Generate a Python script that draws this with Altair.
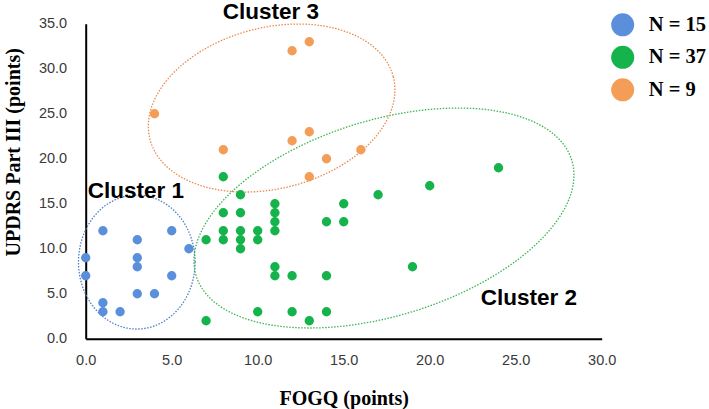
import altair as alt
import numpy as np
import pandas as pd

# FOGQ (x) and UPDRS Part III (y) scores for each cluster
c1_fogq = [1, 3, 5, 6, 0, 3, 3, 0, 5, 3, 4, 1, 1, 2]
c1_updrs = [12, 11, 12, 10, 9, 9, 8, 7, 7, 5, 5, 4, 3, 3]

c2_fogq = [8, 9, 17, 11, 15, 8, 9, 11, 11, 14, 15, 8, 9, 10, 11, 7,
           8, 9, 10, 9, 11, 11, 12, 14, 19, 20, 24, 10, 12, 14, 7, 13]
c2_updrs = [18, 16, 16, 15, 15, 14, 14, 14, 13, 13, 13, 12, 12, 12, 12, 11,
            11, 11, 11, 10, 8, 7, 7, 7, 8, 17, 19, 3, 3, 3, 2, 2]

c3_fogq = [4, 8, 12, 13, 12, 13, 14, 16, 13]
c3_updrs = [25, 21, 22, 23, 32, 33, 20, 21, 18]

cluster_names = ["Cluster 1", "Cluster 2", "Cluster 3"]
legend_labels = ["N = 15", "N = 37", "N = 9"]
point_colors = ["#5b8fdb", "#15b34c", "#f49d56"]
ring_colors = ["#4f7fc4", "#3cb552", "#e88a4c"]

x_ticks = [0, 5, 10, 15, 20, 25, 30]
y_ticks = [0, 5, 10, 15, 20, 25, 30, 35]

PAGE_W, PAGE_H = 709, 409
LEFT, TOP = 85.7, 23.8
W, H = 516, 315
X_MAX, Y_MAX = 30, 35
px_x = W / X_MAX
px_y = H / Y_MAX

points = pd.concat([
    pd.DataFrame({"fogq": fx, "updrs": uy, "group": lab})
    for fx, uy, lab in zip([c1_fogq, c2_fogq, c3_fogq],
                           [c1_updrs, c2_updrs, c3_updrs],
                           legend_labels)
], ignore_index=True)

# Dotted outline around each cluster: centre in data units,
# semi-axes and tilt in screen pixels/degrees
outlines = [
    ("Cluster 1", 2.97, 8.53, 58.3, 67.0, 0.0),
    ("Cluster 2", 17.34, 13.42, 196.5, 97.9, 17.1),
    ("Cluster 3", 10.81, 25.64, 125.6, 80.5, 14.4),
]
t = np.linspace(0, 2 * np.pi, 361)
rings = []
for name, cx, cy, a, b, tilt in outlines:
    th = np.radians(tilt)
    dx = a * np.cos(th) * np.cos(t) - b * np.sin(th) * np.sin(t)
    dy = a * np.sin(th) * np.cos(t) + b * np.cos(th) * np.sin(t)
    rings.append(pd.DataFrame({
        "cluster": name,
        "fogq": cx + dx / px_x,
        "updrs": cy + dy / px_y,
        "k": np.arange(len(t)),
    }))
rings = pd.concat(rings, ignore_index=True)

tags = pd.DataFrame({
    "cluster": cluster_names,
    "fogq": [2.92, 25.77, 10.77],
    "updrs": [15.64, 3.76, 35.5],
})

x_scale = alt.Scale(domain=[0, X_MAX], nice=False, zero=False)
y_scale = alt.Scale(domain=[0, Y_MAX], nice=False, zero=False)

x_axis = alt.Axis(
    values=x_ticks, format=".1f", title="FOGQ (points)", grid=False,
    ticks=False, tickSize=0, domainColor="black", domainWidth=2,
    labelFont="Liberation Sans", labelFontSize=14.5, labelColor="#3a3a3a",
    labelPadding=15, labelFlush=False,
    titleFont="Liberation Serif", titleFontSize=20, titleFontWeight="bold",
    titleColor="black", titleBaseline="alphabetic", titleY=66,
)
y_axis = alt.Axis(
    values=y_ticks, format=".1f", title="UPDRS Part III (points)", grid=False,
    ticks=False, tickSize=0, domainColor="black", domainWidth=2,
    labelFont="Liberation Sans", labelFontSize=14.5, labelColor="#3a3a3a",
    labelPadding=19, labelFlush=False,
    titleFont="Liberation Serif", titleFontSize=20, titleFontWeight="bold",
    titleColor="black", titleBaseline="alphabetic", titleX=-66, titleY=128,
)

ring_layers = []
for name, col in zip(cluster_names, ring_colors):
    ring_layers.append(
        alt.Chart(rings[rings["cluster"] == name])
        .mark_line(color=col, strokeWidth=1.3, strokeDash=[1.5, 1.5], clip=False)
        .encode(
            x=alt.X("fogq:Q", scale=x_scale, axis=x_axis),
            y=alt.Y("updrs:Q", scale=y_scale, axis=y_axis),
            order="k:Q",
        )
    )

dots = (
    alt.Chart(points)
    .mark_circle(size=88, opacity=1)
    .encode(
        x=alt.X("fogq:Q", scale=x_scale, axis=x_axis),
        y=alt.Y("updrs:Q", scale=y_scale, axis=y_axis),
        color=alt.Color(
            "group:N",
            scale=alt.Scale(domain=legend_labels, range=point_colors),
            legend=alt.Legend(
                orient="none", legendX=525, legendY=-11, title=None,
                symbolType="circle", symbolSize=530, symbolStrokeWidth=0,
                symbolOpacity=1, labelFont="Liberation Serif",
                labelFontWeight="bold", labelFontSize=20.5, labelColor="black",
                labelOffset=14, rowPadding=8.5, padding=0,
            ),
        ),
    )
)

labels = (
    alt.Chart(tags)
    .mark_text(font="Liberation Sans", fontWeight="bold", fontSize=22.5,
               baseline="alphabetic", align="center", color="black", clip=False)
    .encode(
        x=alt.X("fogq:Q", scale=x_scale),
        y=alt.Y("updrs:Q", scale=y_scale),
        text="cluster:N",
    )
)

chart = (
    alt.layer(*ring_layers, dots, labels)
    .properties(
        width=W, height=H,
        autosize=alt.AutoSizeParams(type="none"),
        padding={"left": LEFT, "top": TOP,
                 "right": PAGE_W - LEFT - W, "bottom": PAGE_H - TOP - H},
        background="white",
    )
    .configure_view(stroke=None)
)

chart.save("out.html", embed_options={"renderer": "svg", "actions": False})
